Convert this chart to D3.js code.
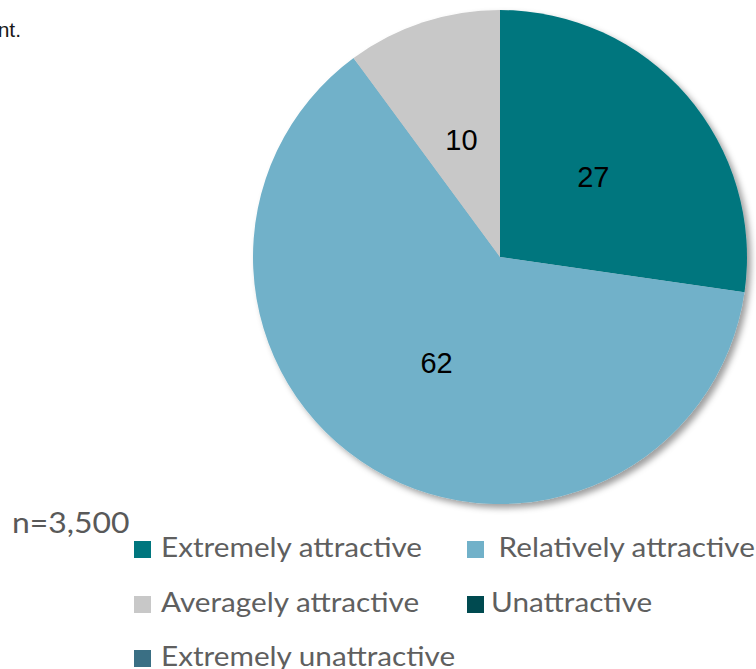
<!DOCTYPE html>
<html>
<head>
<meta charset="utf-8">
<script src="https://cdn.jsdelivr.net/npm/d3@7"></script>
<style>
  html, body { margin: 0; padding: 0; background: #ffffff; }
  svg { display: block; }
  .leg { white-space: pre; }
</style>
</head>
<body>
<svg id="chart" width="756" height="669"></svg>
<script>
// ---- data ----
const categories = ["Extremely attractive", "Relatively attractive", "Averagely attractive", "Unattractive", "Extremely unattractive"];
const values = [27, 62, 10, 0, 0];
const legendLabels = ["Extremely attractive", " Relatively attractive", "Averagely attractive", "Unattractive", "Extremely unattractive"];
const colors = ["#00767E", "#71B1C9", "#C8C8C8", "#004A50", "#3A6F84"];
const sampleNote = "n=3,500";
const fragmentText = "nt.";

// ---- drawing ----
const svg = d3.select("#chart");
const cx = 500, cy = 257, R = 247;

const defs = svg.append("defs");
const f = defs.append("filter").attr("id", "shadow")
  .attr("x", "-10%").attr("y", "-10%").attr("width", "125%").attr("height", "125%");
f.append("feDropShadow").attr("dx", 4).attr("dy", 4).attr("stdDeviation", 3)
  .attr("flood-color", "#000").attr("flood-opacity", 0.38);

const color = d3.scaleOrdinal().domain(categories).range(colors);

const pie = d3.pie().sort(null).value(d => d.value);
const arcs = pie(categories.map((c, i) => ({ name: c, value: values[i] })));
const arc = d3.arc().innerRadius(0).outerRadius(R);

const g = svg.append("g").attr("transform", `translate(${cx},${cy})`);
g.append("g").attr("filter", "url(#shadow)")
  .selectAll("path").data(arcs.filter(d => d.data.value > 0)).join("path")
  .attr("d", arc)
  .attr("fill", d => color(d.data.name));

g.selectAll("text.val").data(arcs.filter(d => d.data.value > 0)).join("text")
  .attr("class", "val")
  .attr("transform", d => `translate(${arc.centroid(d)})`)
  .attr("text-anchor", "middle")
  .attr("dy", "0.36em")
  .attr("font-family", "'Liberation Sans', Arial, sans-serif")
  .attr("font-size", 29)
  .attr("fill", "#000")
  .text(d => d.data.value);

// fragment of text at top-left
svg.append("text")
  .attr("x", 21).attr("y", 37)
  .attr("text-anchor", "end")
  .attr("font-family", "'Liberation Sans', Arial, sans-serif")
  .attr("font-size", 21)
  .attr("fill", "#1a1a1a")
  .text(fragmentText);

function stretch(sel, k) {
  sel.each(function () {
    const len = this.getComputedTextLength();
    d3.select(this).attr("textLength", len * k).attr("lengthAdjust", "spacingAndGlyphs");
  });
}

// n note
const legFont = "Lato, 'Open Sans', sans-serif";
svg.append("text")
  .attr("x", 12).attr("y", 533)
  .attr("font-family", legFont)
  .attr("font-size", 29)
  .attr("fill", "#595959")
  .text(sampleNote)
  .call(stretch, 1.1);

// legend
const colX = [134, 467];
const textX = [161, 491];
const rowY = [541, 596, 650];
const sq = 17;
const leg = svg.append("g");
categories.forEach((c, i) => {
  const col = i % 2, row = Math.floor(i / 2);
  leg.append("rect")
    .attr("x", colX[col]).attr("y", rowY[row])
    .attr("width", sq).attr("height", sq)
    .attr("fill", color(c));
  leg.append("text")
    .attr("class", "leg")
    .attr("x", textX[col]).attr("y", rowY[row] + 15.5)
    .attr("font-family", legFont)
    .attr("font-size", 27)
    .attr("fill", "#5f5f5f")
    .text(legendLabels[i])
    .call(stretch, 1.1);
});
</script>
</body>
</html>
